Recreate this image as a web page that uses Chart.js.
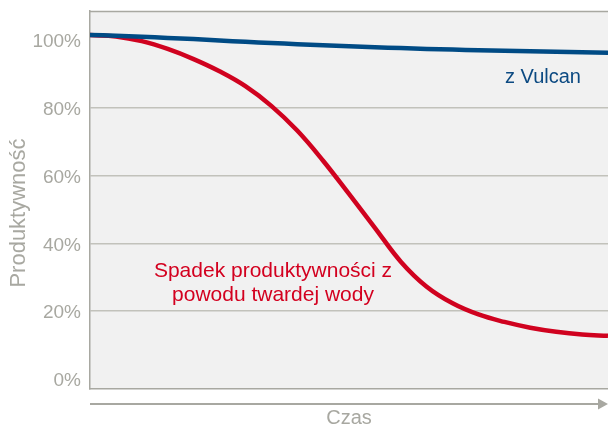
<!DOCTYPE html>
<html>
<head>
<meta charset="utf-8">
<script src="https://cdn.jsdelivr.net/npm/chart.js@4/dist/chart.umd.min.js"></script>
<style>
html,body{margin:0;padding:0;background:#fff;}
#wrap{width:608px;height:428px;position:relative;}
</style>
</head>
<body>
<div id="wrap"><canvas id="c" width="608" height="428"></canvas></div>
<script>
const timePoints = [0,5,10,15,20,25,30,35,40,45,50,55,60,65,70,75,80,85,90,95,100];
const vulcanSeries = [101.5,101.3,101.0,100.65,100.3,99.9,99.5,99.15,98.8,98.5,98.2,97.9,97.65,97.4,97.2,97.0,96.85,96.7,96.55,96.4,96.3];
const hardWaterSeries = [101.5,101.1,99.7,97.4,94.4,90.8,86.4,80.6,73.3,64.4,54.6,44.6,34.6,27.2,22.3,19.0,16.8,15.1,13.9,13.1,12.7];
const yTickValues = [0,20,40,60,80,100];
const yTitle = 'Produktywność';
const xTitle = 'Czas';
const vulcanLabel = 'z Vulcan';
const hardWaterLabel = ['Spadek produktywności z', 'powodu twardej wody'];

const GRAY = '#a8a8a1';
const FONT = '"Liberation Sans", Arial, sans-serif';

const toXY = (ys) => ys.map((y, i) => ({x: timePoints[i], y}));

const decor = {
  id: 'decor',
  beforeDraw(chart) {
    const {ctx, chartArea: a} = chart;
    ctx.save();
    ctx.fillStyle = '#f1f1f1';
    ctx.fillRect(a.left, a.top, a.right - a.left, a.bottom - a.top);
    ctx.restore();
  },
  afterDraw(chart) {
    const {ctx, chartArea: a} = chart;
    ctx.save();
    // top border
    ctx.strokeStyle = GRAY;
    ctx.lineWidth = 1.5;
    ctx.beginPath();
    ctx.moveTo(a.left, a.top + 0.5);
    ctx.lineTo(a.right, a.top + 0.5);
    ctx.stroke();
    // time arrow
    const ay = a.bottom + 15;
    ctx.lineWidth = 2;
    ctx.beginPath();
    ctx.moveTo(a.left, ay);
    ctx.lineTo(a.right - 8, ay);
    ctx.stroke();
    ctx.fillStyle = GRAY;
    ctx.beginPath();
    ctx.moveTo(a.right - 10, ay - 5.5);
    ctx.lineTo(a.right, ay);
    ctx.lineTo(a.right - 10, ay + 5.5);
    ctx.closePath();
    ctx.fill();
    // y title
    ctx.save();
    ctx.translate(19, 213);
    ctx.rotate(-Math.PI / 2);
    ctx.textAlign = 'center';
    ctx.textBaseline = 'middle';
    ctx.font = '22px ' + FONT;
    ctx.fillStyle = GRAY;
    ctx.fillText(yTitle, 0, 0);
    ctx.restore();
    // annotations
    ctx.textAlign = 'center';
    ctx.textBaseline = 'alphabetic';
    ctx.font = '20px ' + FONT;
    ctx.fillStyle = '#0c4a82';
    ctx.fillText(vulcanLabel, a.left + 453, 83);
    ctx.font = '21px ' + FONT;
    ctx.fillStyle = '#d3001f';
    ctx.fillText(hardWaterLabel[0], a.left + 183, 277);
    ctx.fillText(hardWaterLabel[1], a.left + 183, 301);
    ctx.restore();
  }
};

new Chart(document.getElementById('c'), {
  type: 'line',
  data: {
    datasets: [
      {
        label: vulcanLabel,
        data: toXY(vulcanSeries),
        borderColor: '#004b85',
        borderWidth: 4.5,
        pointRadius: 0,
        tension: 0.4,
        fill: false
      },
      {
        label: hardWaterLabel.join(' '),
        data: toXY(hardWaterSeries),
        borderColor: '#d0021f',
        borderWidth: 4.5,
        pointRadius: 0,
        tension: 0.4,
        fill: false
      }
    ]
  },
  options: {
    responsive: false,
    animation: false,
    devicePixelRatio: 1,
    layout: {padding: {top: 11, right: 0, left: 0, bottom: 0}},
    plugins: {legend: {display: false}, tooltip: {enabled: false}},
    scales: {
      x: {
        type: 'linear',
        min: 0,
        max: 100,
        ticks: {display: false},
        grid: {display: false},
        border: {display: true, color: GRAY, width: 1.5},
        title: {display: true, text: xTitle, color: GRAY, font: {family: FONT, size: 20, lineHeight: 1}, padding: {top: 0, bottom: 0}},
        afterFit(s) { s.height = 39; s.paddingLeft = 0; s.paddingRight = 0; }
      },
      y: {
        min: -3,
        max: 108.6,
        afterBuildTicks(s) { s.ticks = yTickValues.map(v => ({value: v})); },
        ticks: {
          color: GRAY,
          font: {family: FONT, size: 19},
          padding: 9,
          labelOffset: 2,
          callback: (v) => v + '%'
        },
        grid: {
          drawTicks: false,
          lineWidth: 1.5,
          color: (c) => (c.tick && (c.tick.value === 0 || c.tick.value === 100)) ? 'rgba(0,0,0,0)' : '#c2c2bb'
        },
        border: {display: true, color: GRAY, width: 1.5},
        title: {display: false},
        afterFit(s) { s.width = 90; s.paddingTop = 0; s.paddingBottom = 0; }
      }
    }
  },
  plugins: [decor]
});
</script>
</body>
</html>
